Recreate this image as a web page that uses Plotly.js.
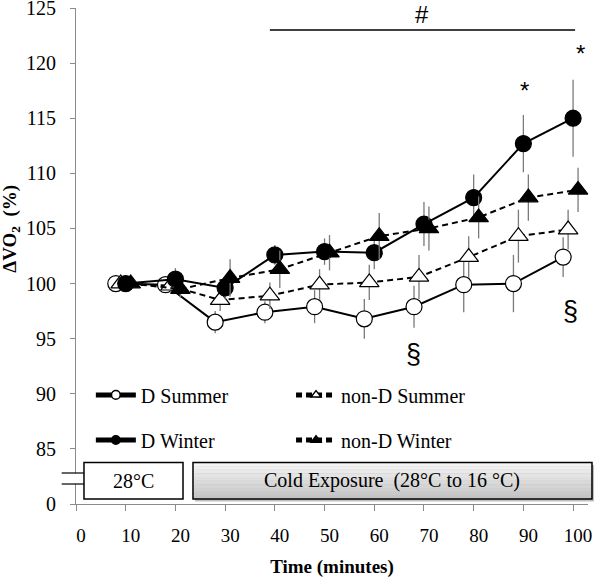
<!DOCTYPE html>
<html>
<head>
<meta charset="utf-8">
<script src="https://cdn.plot.ly/plotly-3.0.1.min.js"></script>
<style>html,body{margin:0;padding:0;background:#fff;}#chart{width:600px;height:578px;}</style>
</head>
<body>
<div id="chart"></div>
<script>
// ---- data ----
const time = [10, 20, 30, 40, 50, 60, 70, 80, 90, 100];
const seriesNames = ['D Summer', 'non-D Summer', 'D Winter', 'non-D Winter'];
const dSummer      = [100.0, 99.9, 96.5, 97.4, 97.9, 96.8, 97.9, 99.9, 100.0, 102.4];
const dSummerErr   = [0, 0.5, 1.0, 1.0, 1.5, 1.8, 1.9, 2.5, 2.6, 1.8];
const ndSummer     = [100.0, 99.8, 98.5, 98.9, 99.9, 100.1, 100.6, 102.4, 104.3, 104.9];
const ndSummerErr  = [0, 0.5, 1.0, 1.2, 1.4, 1.6, 2.0, 1.9, 2.4, 1.8];
const dWinter      = [100.0, 100.4, 99.6, 102.6, 102.9, 102.8, 105.4, 107.8, 112.7, 115.0];
const dWinterErr   = [0, 1.0, 1.0, 0.9, 1.2, 1.5, 2.0, 2.1, 2.6, 3.5];
const ndWinter     = [100.0, 99.5, 100.5, 101.3, 102.8, 104.3, 105.0, 106.0, 107.8, 108.5];
const ndWinterErr  = [0, 0.8, 1.7, 1.7, 1.6, 2.1, 2.0, 1.9, 2.1, 2.0];
const yTickVals  = [80, 85, 90, 95, 100, 105, 110, 115, 120, 125];
const yTickText  = ['0', '85', '90', '95', '100', '105', '110', '115', '120', '125'];
const xTickVals  = [0, 10, 20, 30, 40, 50, 60, 70, 80, 90, 100];
const xTickText  = ['0', '10', '20', '30', '40', '50', '60', '70', '80', '90', '100'];

// ---- chart ----
const serif = 'Liberation Serif, Times New Roman, serif';
const sans = 'Liberation Sans, Arial, sans-serif';
const dodge = [-2, -1, 0, 1];
const vals = [dSummer, ndSummer, dWinter, ndWinter];
const errs = [dSummerErr, ndSummerErr, dWinterErr, ndWinterErr];
const symbols = ['circle', 'triangle-up', 'circle', 'triangle-up'];
const fills = ['#ffffff', '#ffffff', '#000000', '#000000'];
const dashes = ['solid', '6px,4px', 'solid', '6px,4px'];
const legends = ['legend', 'legend2', 'legend3', 'legend4'];

const traces = vals.map((v, i) => ({
  type: 'scatter', mode: 'lines+markers', name: seriesNames[i],
  x: time.map(t => t + dodge[i]), y: v,
  line: {color: '#000', width: 2, dash: dashes[i]},
  marker: {symbol: symbols[i], size: symbols[i] === 'circle' ? 16 : 17, color: fills[i], line: {color: '#000', width: 1.2}},
  error_y: {type: 'data', array: errs[i], visible: true, color: '#7a7a7a', thickness: 1.3, width: 0},
  legend: legends[i], cliponaxis: false
}));

const legendBase = {font: {family: serif, size: 20, color: '#000'}, bgcolor: 'rgba(0,0,0,0)', itemsizing: 'constant',
  xanchor: 'left', yanchor: 'middle', orientation: 'h', itemwidth: 40};

const shapes = [];
// significance bar
shapes.push({type: 'line', xref: 'x', yref: 'y', x0: 39, x1: 100.4, y0: 123, y1: 123, line: {color: '#000', width: 1.5}});
// broken axis marker
shapes.push({type: 'rect', xref: 'paper', yref: 'paper', x0: -0.006, x1: 0.006, y0: 0.041, y1: 0.062, fillcolor: '#fff', line: {width: 0}, layer: 'above'});
shapes.push({type: 'line', xref: 'paper', yref: 'paper', x0: -0.028, x1: 0.016, y0: 0.0625, y1: 0.0625, line: {color: '#000', width: 1.2}, layer: 'above'});
shapes.push({type: 'line', xref: 'paper', yref: 'paper', x0: -0.028, x1: 0.016, y0: 0.0403, y1: 0.0403, line: {color: '#000', width: 1.2}, layer: 'above'});
// 28°C box
shapes.push({type: 'rect', xref: 'paper', yref: 'paper', x0: 0.0156, x1: 0.209, y0: 0.010, y1: 0.0837, fillcolor: '#fff', line: {color: '#000', width: 1.5}, layer: 'above'});
// cold exposure box with shadow and gradient bands
const cx0 = 0.2285, cx1 = 1.0078, cy0 = 0.010, cy1 = 0.0837;
shapes.push({type: 'rect', xref: 'paper', yref: 'paper', x0: cx0 + 0.004, x1: cx1 + 0.004, y0: cy0 - 0.005, y1: cy1 - 0.005, fillcolor: '#c0c0c0', line: {width: 0}, layer: 'above'});
const nb = 10;
for (let k = 0; k < nb; k++) {
  const g = Math.round(244 - (244 - 196) * (k / (nb - 1)));
  const h = (cy1 - cy0) / nb;
  shapes.push({type: 'rect', xref: 'paper', yref: 'paper', x0: cx0, x1: cx1, y0: cy1 - (k + 1) * h, y1: cy1 - k * h,
    fillcolor: `rgb(${g},${g},${g})`, line: {width: 0}, layer: 'above'});
}
shapes.push({type: 'rect', xref: 'paper', yref: 'paper', x0: cx0, x1: cx1, y0: cy0, y1: cy1, fillcolor: 'rgba(0,0,0,0)', line: {color: '#000', width: 1.5}, layer: 'above'});

const annotations = [
  {xref: 'x', yref: 'y', x: 69.6, y: 124.4, text: '#', showarrow: false, xanchor: 'center', yanchor: 'middle', font: {family: sans, size: 24, color: '#000'}},
  {xref: 'x', yref: 'y', x: 101.4, y: 120.9, text: '*', showarrow: false, xanchor: 'center', yanchor: 'middle', font: {family: sans, size: 24, color: '#000'}},
  {xref: 'x', yref: 'y', x: 90.3, y: 117.5, text: '*', showarrow: false, xanchor: 'center', yanchor: 'middle', font: {family: sans, size: 24, color: '#000'}},
  {xref: 'x', yref: 'y', x: 67.8, y: 93.6, text: '§', showarrow: false, xanchor: 'center', yanchor: 'middle', font: {family: sans, size: 27, color: '#000'}},
  {xref: 'x', yref: 'y', x: 99.4, y: 97.5, text: '§', showarrow: false, xanchor: 'center', yanchor: 'middle', font: {family: sans, size: 27, color: '#000'}},
  {xref: 'paper', yref: 'paper', x: 0.112, y: 0.0467, xanchor: 'center', yanchor: 'middle', text: '28°C', showarrow: false, font: {family: serif, size: 20, color: '#000'}},
  {xref: 'paper', yref: 'paper', x: 0.618, y: 0.0467, xanchor: 'center', yanchor: 'middle', text: 'Cold Exposure  (28°C to 16 °C)', showarrow: false, font: {family: serif, size: 20, color: '#000'}},
  {xref: 'paper', yref: 'paper', x: -0.126, y: 0.556, xanchor: 'center', yanchor: 'middle', textangle: -90,
   text: '<b>ΔVO<sub>2</sub>  (%)</b>', showarrow: false, font: {family: serif, size: 19, color: '#000'}}
];

const layout = {
  width: 600, height: 578,
  margin: {l: 76, r: 12, t: 8, b: 74},
  paper_bgcolor: '#fff', plot_bgcolor: '#fff',
  font: {family: serif, color: '#000'},
  xaxis: {range: [0, 103], tickvals: xTickVals, ticktext: xTickText, ticks: 'outside', ticklen: 6, tickcolor: '#8a8a8a',
    showline: true, linecolor: '#8a8a8a', linewidth: 1, showgrid: false, zeroline: false, ticklabeloverflow: 'allow',
    tickfont: {family: serif, size: 19, color: '#000'}, ticklabelstandoff: 8, ticklabelshift: 5,
    title: {text: '<b>Time (minutes)</b>', font: {family: serif, size: 19, color: '#000'}, standoff: 14}},
  yaxis: {range: [80, 125], tickvals: yTickVals, ticktext: yTickText, ticks: 'outside', ticklen: 5, tickcolor: '#8a8a8a',
    showline: true, linecolor: '#8a8a8a', linewidth: 1, showgrid: false, zeroline: false, ticklabeloverflow: 'allow',
    tickfont: {family: serif, size: 20, color: '#000'}, ticklabelstandoff: 10},
  legend:  Object.assign({}, legendBase, {x: 0.029, y: 0.22}),
  legend2: Object.assign({}, legendBase, {x: 0.42, y: 0.22}),
  legend3: Object.assign({}, legendBase, {x: 0.029, y: 0.129}),
  legend4: Object.assign({}, legendBase, {x: 0.42, y: 0.129}),
  showlegend: true,
  shapes: shapes,
  annotations: annotations
};

Plotly.newPlot('chart', traces, layout, {displayModeBar: false, staticPlot: true}).then(gd => {
  // shrink the legend symbols to match the smaller key markers of the reference
  gd.querySelectorAll('.legendpoints path.scatterpts').forEach(p => {
    const t = p.getAttribute('transform') || '';
    p.setAttribute('transform', t + ' scale(0.72)');
  });
});
</script>
</body>
</html>
